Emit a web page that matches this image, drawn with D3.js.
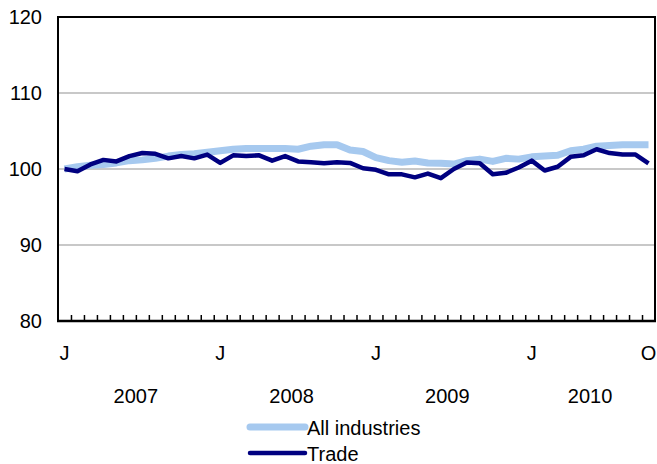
<!DOCTYPE html>
<html>
<head>
<meta charset="utf-8">
<script src="https://cdn.jsdelivr.net/npm/d3@7"></script>
<style>
  body { margin: 0; background: #fff; }
  text { font-family: "Liberation Sans", Arial, sans-serif; fill: #000; }
</style>
</head>
<body>
<svg id="chart" width="657" height="464"></svg>
<script>
// monthly index, Jan 2007 = 100
var years = ["2007", "2008", "2009", "2010"];
var monthLetters = ["J","F","M","A","M","J","J","A","S","O","N","D"];
var allIndustries = [
  100.0, 100.3, 100.5, 100.6, 100.8, 101.1, 101.2, 101.4, 101.7, 101.9, 102.0, 102.2,
  102.4, 102.6, 102.7, 102.7, 102.7, 102.7, 102.6, 103.0, 103.2, 103.2, 102.5, 102.3,
  101.5, 101.1, 100.9, 101.05, 100.8, 100.75, 100.65, 101.1, 101.3, 101.0, 101.4, 101.3,
  101.6, 101.7, 101.8, 102.4, 102.6, 103.0, 103.1, 103.2, 103.2, 103.2
];
var trade = [
  100.0, 99.7, 100.6, 101.2, 101.0, 101.7, 102.1, 102.0, 101.4, 101.7, 101.4, 101.9,
  100.8, 101.8, 101.7, 101.8, 101.1, 101.7, 101.0, 100.9, 100.75, 100.9, 100.8, 100.1,
  99.9, 99.3, 99.3, 98.9, 99.4, 98.8, 100.0, 100.85, 100.75, 99.3, 99.5, 100.2,
  101.1, 99.8, 100.3, 101.6, 101.8, 102.6, 102.1, 101.9, 101.9, 100.75
];
var yTicks = [80, 90, 100, 110, 120];
var shownMonths = [0, 12, 24, 36, 45]; // J J J J O

var svg = d3.select("#chart"),
    pLeft = 58, pRight = 655, pTop = 17, pBottom = 321;

var months = d3.range(0, trade.length);
var x = d3.scaleBand().domain(months).range([pLeft, pRight]).padding(0);
var y = d3.scaleLinear().domain([80, 120]).range([pBottom, pTop]);

// grid
svg.selectAll("line.grid")
    .data(yTicks.filter(function(d) { return d > 80 && d < 120; }))
  .enter().append("line")
    .attr("class", "grid")
    .attr("x1", pLeft).attr("x2", pRight)
    .attr("y1", function(d) { return y(d); })
    .attr("y2", function(d) { return y(d); })
    .style("stroke", "#c8c8c8").style("stroke-width", 2);

// y labels
svg.selectAll("text.ylab")
    .data(yTicks)
  .enter().append("text")
    .attr("class", "ylab")
    .attr("x", 42)
    .attr("y", function(d) { return y(d) + 7; })
    .attr("text-anchor", "end")
    .style("font-size", "20px")
    .text(function(d) { return d; });

// lines
var line = function(vals) {
  return d3.line()
    .x(function(d, i) { return x(i) + x.bandwidth() / 2; })
    .y(function(d) { return y(d); })(vals);
};

svg.append("path")
    .attr("d", line(allIndustries))
    .style("fill", "none").style("stroke", "#a6c9ef")
    .style("stroke-width", 7).style("stroke-linejoin", "round");

svg.append("path")
    .attr("d", line(trade))
    .style("fill", "none").style("stroke", "#000080")
    .style("stroke-width", 4.5).style("stroke-linejoin", "round");

// frame
svg.append("path")
    .attr("d", "M" + pLeft + "," + pBottom + "V" + pTop + "H" + pRight + "V" + pBottom)
    .style("fill", "none").style("stroke", "#000").style("stroke-width", 2);

// x axis with month ticks at band edges
var xAxis = d3.axisBottom(d3.scaleLinear().domain([0, trade.length]).range([pLeft, pRight]))
    .tickValues(d3.range(1, trade.length))
    .tickSize(-6)
    .tickFormat("");
var gx = svg.append("g")
    .attr("transform", "translate(0," + pBottom + ")")
    .call(xAxis);
gx.select(".domain").remove();
gx.selectAll(".tick line").style("stroke", "#000").style("stroke-width", 1.5);
svg.append("line")
    .attr("x1", pLeft - 1).attr("x2", pRight + 1)
    .attr("y1", pBottom).attr("y2", pBottom)
    .style("stroke", "#000").style("stroke-width", 2.5);

svg.selectAll("text.mlab")
    .data(shownMonths)
  .enter().append("text")
    .attr("class", "mlab")
    .attr("x", function(d) { return x(d) + x.bandwidth() / 2; })
    .attr("y", 360)
    .attr("text-anchor", "middle")
    .style("font-size", "20px")
    .text(function(d) { return monthLetters[d % 12]; });

svg.selectAll("text.year")
    .data(years)
  .enter().append("text")
    .attr("class", "year")
    .attr("x", function(d, i) {
      var first = i * 12, last = Math.min(first + 11, trade.length - 1);
      return (x(first) + x(last) + x.bandwidth()) / 2;
    })
    .attr("y", 403)
    .attr("text-anchor", "middle")
    .style("font-size", "20px")
    .text(function(d) { return d; });

// legend
var legend = [
  {name: "All industries", color: "#a6c9ef", w: 7},
  {name: "Trade", color: "#000080", w: 4.5}
];
var lg = svg.selectAll("g.legend")
    .data(legend)
  .enter().append("g")
    .attr("class", "legend")
    .attr("transform", function(d, i) { return "translate(0," + (427 + i * 26) + ")"; });
lg.append("line")
    .attr("x1", 250).attr("x2", 305)
    .style("stroke", function(d) { return d.color; })
    .style("stroke-width", function(d) { return d.w; })
    .style("stroke-linecap", "round");
lg.append("text")
    .attr("x", 307).attr("y", 8)
    .style("font-size", "20px")
    .text(function(d) { return d.name; });
</script>
</body>
</html>
